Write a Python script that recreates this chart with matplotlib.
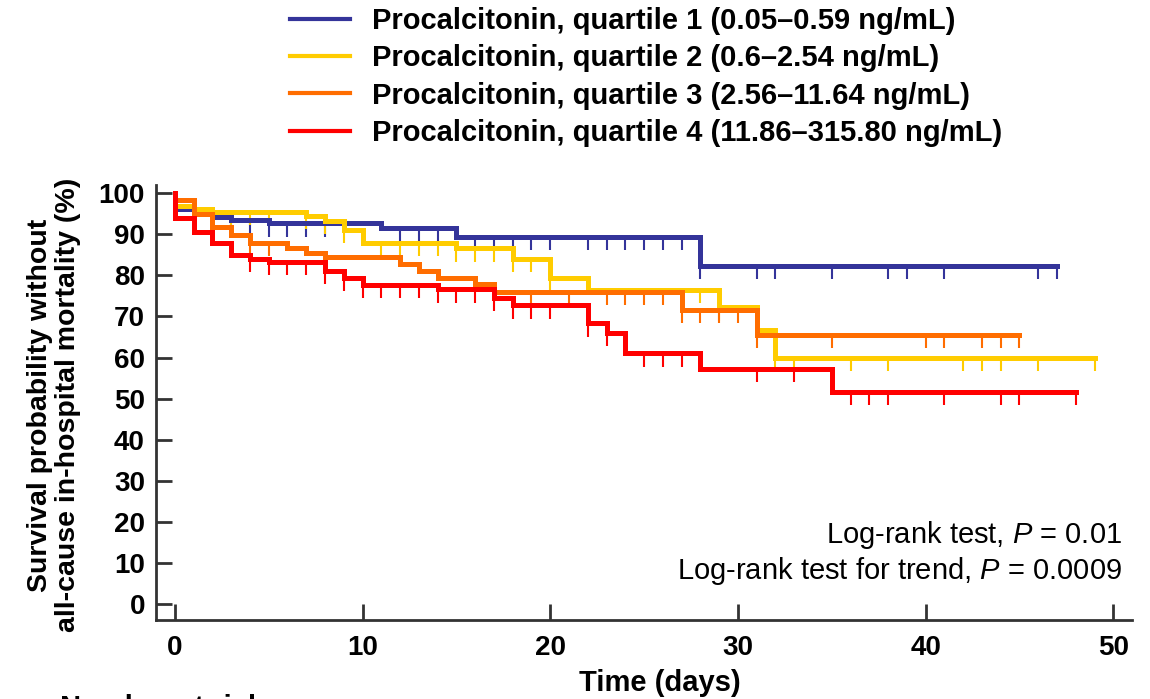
import numpy as np
import matplotlib
matplotlib.use("Agg")
import matplotlib.pyplot as plt
from matplotlib.lines import Line2D

plt.rcParams["font.family"] = ["Liberation Sans", "DejaVu Sans"]
plt.rcParams["mathtext.fontset"] = "custom"
plt.rcParams["mathtext.it"] = "Liberation Sans:italic"
plt.rcParams["mathtext.rm"] = "Liberation Sans"

# ----------------------------------------------------------------------
# Kaplan-Meier steps (days, % surviving)
# ----------------------------------------------------------------------
LABELS = [
    "Procalcitonin, quartile 1 (0.05\u20130.59 ng/mL)",
    "Procalcitonin, quartile 2 (0.6\u20132.54 ng/mL)",
    "Procalcitonin, quartile 3 (2.56\u201311.64 ng/mL)",
    "Procalcitonin, quartile 4 (11.86\u2013315.80 ng/mL)",
]
COLORS = ["#34349a", "#ffcc00", "#ff6d00", "#ff0000"]

q1_t = [0, 0, 1, 2, 3, 5, 11, 15, 28]
q1_s = [100, 96.3, 95.0, 94.3, 93.6, 92.7, 91.6, 89.3, 82.4]
q1_end = 47
q1_cens = [3, 4, 5, 6, 7, 8, 12, 13, 14, 16, 17, 18, 19, 20, 22, 23, 24, 25,
           26, 27, 28, 31, 32, 35, 38, 39, 41, 46, 47]

q2_t = [0, 0, 1, 2, 7, 8, 9, 10, 15, 18, 20, 22, 29, 31, 32]
q2_s = [100, 97.0, 96.3, 95.4, 94.6, 93.4, 91.0, 88.0, 86.6, 84.1, 79.3,
        76.4, 72.2, 66.6, 60.0]
q2_end = 49
q2_cens = [3, 4, 5, 7, 8, 9, 11, 12, 13, 14, 15, 16, 17, 18, 19, 20, 28, 29,
           32, 33, 36, 38, 42, 43, 44, 46, 49]

q3_t = [0, 0, 1, 2, 3, 4, 6, 7, 8, 12, 13, 14, 16, 17, 27, 31]
q3_s = [100, 98.3, 95.0, 91.7, 89.8, 88.0, 86.6, 85.6, 84.4, 82.9, 81.2,
        79.5, 78.0, 76.0, 71.5, 65.4]
q3_end = 45
q3_cens = [4, 5, 19, 21, 23, 24, 25, 26, 27, 28, 29, 30, 31, 35, 40, 41, 43,
           44, 45]

q4_t = [0, 0, 1, 2, 3, 4, 5, 8, 9, 10, 14, 17, 18, 22, 23, 24, 28, 35]
q4_s = [100, 94.0, 90.5, 87.8, 85.0, 84.0, 83.2, 81.2, 79.5, 77.6, 76.6,
        74.6, 72.7, 68.3, 65.9, 61.0, 57.3, 51.5]
q4_end = 48
q4_cens = [4, 5, 6, 7, 8, 9, 10, 11, 12, 13, 14, 15, 16, 17, 18, 19, 20, 22,
           23, 25, 26, 27, 31, 33, 36, 37, 38, 41, 44, 45, 48]

CURVES = [
    (q1_t, q1_s, q1_end, q1_cens),
    (q2_t, q2_s, q2_end, q2_cens),
    (q3_t, q3_s, q3_end, q3_cens),
    (q4_t, q4_s, q4_end, q4_cens),
]

X_TICKS = [0, 10, 20, 30, 40, 50]
Y_TICKS = list(range(0, 101, 10))


def surv_at(t, s, x):
    """Survival just after time x (post-step)."""
    i = np.searchsorted(np.asarray(t), x, side="right") - 1
    return np.asarray(s)[i]


fig = plt.figure(figsize=(11.5, 6.99), dpi=100)
ax = fig.add_axes([0.1357, 0.113, 0.8487, 0.622])

for (t, s, end, cens), col in zip(CURVES, COLORS):
    xs = np.r_[t, end]
    ys = np.r_[s, s[-1]]
    ax.step(xs, ys, where="post", color=col, lw=3.6, solid_joinstyle="miter",
            zorder=3)
    # censoring marks hang below the curve
    cy = np.array([surv_at(t, s, c) for c in cens])
    ax.vlines(cens, cy - 3.2, cy, color=col, lw=1.5, zorder=2)

ax.set_xlim(-1, 51)
ax.set_ylim(-4, 102)
ax.set_xticks(X_TICKS)
ax.set_yticks(Y_TICKS)
for sp in ["top", "right"]:
    ax.spines[sp].set_visible(False)
for sp in ["left", "bottom"]:
    ax.spines[sp].set_color("#333333")
    ax.spines[sp].set_linewidth(2)
ax.tick_params(axis="both", direction="in", length=11.5, width=2,
               color="#333333", labelsize=20)
ax.tick_params(axis="x", pad=10.5)
ax.tick_params(axis="y", pad=8)
for lab in ax.get_xticklabels() + ax.get_yticklabels():
    lab.set_fontweight("bold")

fig.text(54 / 1150, 1 - 405 / 699,
         "Survival probability without\nall-cause in-hospital mortality (%)",
         rotation=90, ha="center", va="center", multialignment="center",
         fontsize=20.5, fontweight="bold", linespacing=1.1)
fig.text(660 / 1150, 1 - 683 / 699, "Time (days)", ha="center", va="center",
         fontsize=21, fontweight="bold")
fig.text(60 / 1150, 1 - 694 / 699, "Number at risk", ha="left", va="top",
         fontsize=21, fontweight="bold")

ax.text(0.99, 0.195, "Log-rank test, $P$ = 0.01", transform=ax.transAxes,
        ha="right", va="center", fontsize=21)
ax.text(0.99, 0.113, "Log-rank test for trend, $P$ = 0.0009",
        transform=ax.transAxes, ha="right", va="center", fontsize=21)

handles = [Line2D([], [], color=c, lw=3) for c in COLORS]
fig.legend(handles, LABELS, loc="upper left",
           bbox_to_anchor=(290 / 1150, 1 - 7 / 699), frameon=False,
           prop={"size": 21, "weight": "bold"}, handlelength=2.05,
           handletextpad=0.75, labelspacing=0.32, borderpad=0, borderaxespad=0)

fig.savefig("out.png", dpi=100)
